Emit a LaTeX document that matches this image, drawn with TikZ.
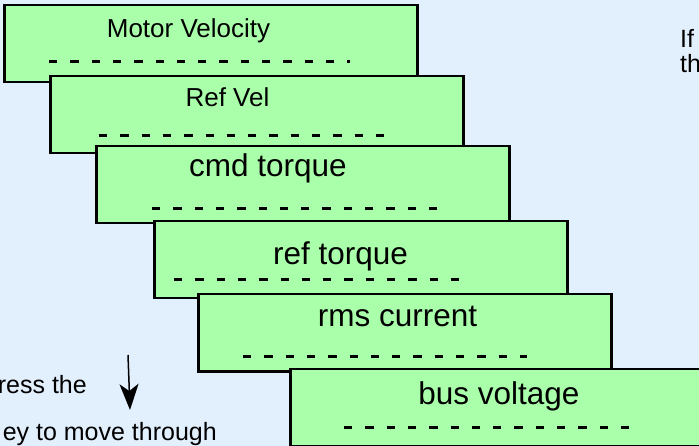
\documentclass[tikz,border=0pt]{standalone}
\usepackage{fontspec}
\setmainfont{Liberation Sans}
\usepackage{xcolor}
\usepackage{tikz}
\usetikzlibrary{arrows.meta}
\definecolor{bgblue}{RGB}{226,239,253}
\definecolor{panelgreen}{RGB}{170,255,170}

\begin{document}
\begin{tikzpicture}[
    x=1pt, y=-1pt,
    panel/.style={draw, fill=panelgreen, line width=2.5pt, minimum width=413pt, minimum height=77pt, anchor=north west, inner sep=0pt},
    small/.style={anchor=base, inner sep=0pt, font=\fontsize{26}{31}\selectfont},
    big/.style={anchor=base, inner sep=0pt, font=\fontsize{31.5}{37}\selectfont},
    sep/.style={line width=3pt, dash pattern=on 8.3pt off 13pt},
    note/.style={inner sep=0pt, font=\fontsize{25}{30}\selectfont},
    arr/.style={-{Stealth[length=26pt, width=19pt, inset=7pt]}, line width=1.5pt},
]
\useasboundingbox (0,0) rectangle (699,446);
\clip (0,0) rectangle (699,446);
\fill[bgblue] (0,0) rectangle (699,446);

\node[panel] (motorvel) at (3,4) {};
\node[small] (motorvellbl) at (188.5,38) {Motor Velocity};
\draw[sep] ([shift={(46,-22)}]motorvel.south west) -- ++(301,0);

\node[panel] (refvel) at (49,75) {};
\node[small] (refvellbl) at (227.5,107) {Ref Vel};
\draw[sep] ([shift={(50,-19)}]refvel.south west) -- ++(286,0);

\node[panel] (cmdtrq) at (95,145) {};
\node[big] (cmdtrqlbl) at (268,177) {cmd torque};
\draw[sep] ([shift={(57,-16)}]cmdtrq.south west) -- ++(286,0);

\node[panel] (reftrq) at (153,220) {};
\node[big] (reftrqlbl) at (340.5,265) {ref torque};
\draw[sep] ([shift={(21,-20)}]reftrq.south west) -- ++(286,0);

\node[panel] (rmscur) at (197,293) {};
\node[big] (rmscurlbl) at (397.5,327) {rms current};
\draw[sep] ([shift={(46,-16)}]rmscur.south west) -- ++(284,0);

\node[panel] (busvolt) at (289,368) {};
\node[big] (busvoltlbl) at (499,404) {bus voltage};
\draw[sep] ([shift={(55,-20)}]busvolt.south west) -- ++(285,0);

\node[note, anchor=base west] (ifline) at (680,48) {If};
\node[note, anchor=base west] (thline) at (680,73) {th};
\node[note, anchor=base east] (pressline) at (87,393) {ress the};
\node[note, anchor=base east] (moveline) at (217,440) {ey to move through};

\coordinate (downtop) at (128,355);
\coordinate (downtip) at (130,410);
\draw[arr] (downtop) -- (downtip);

\end{tikzpicture}
\end{document}
